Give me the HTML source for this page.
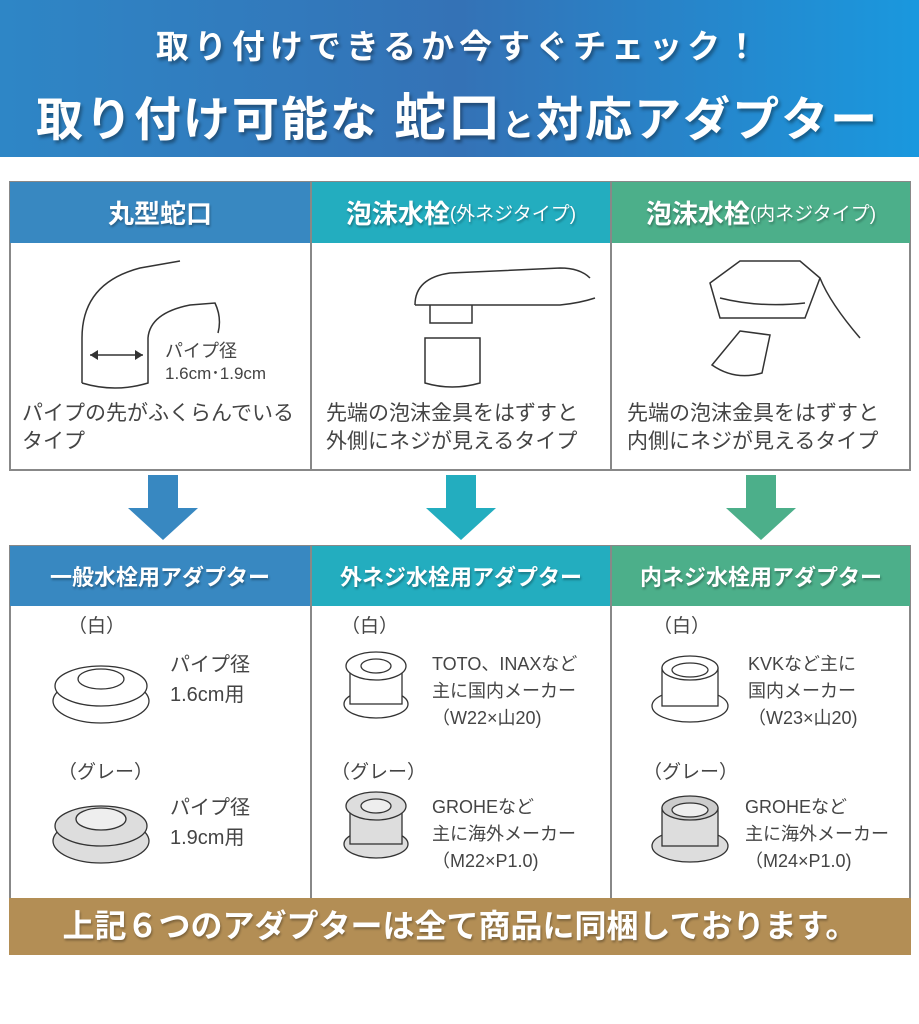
<!DOCTYPE html>
<html><head><meta charset="utf-8"><style>
*{margin:0;padding:0;box-sizing:border-box}
body{width:919px;height:1024px;background:#fff;position:relative;font-family:"Liberation Sans","Noto Sans CJK JP",sans-serif;overflow:hidden}
.abs{position:absolute}
.hdr{left:0;top:0;width:919px;height:157px;background:linear-gradient(90deg,#2e86c6 0%,#3472b6 50%,#1a98de 100%)}
.t1{color:#fff;font-weight:bold;text-shadow:2px 3px 3px rgba(0,0,0,.35);white-space:nowrap}
.grid{border:2px solid #888;background:#fff}
.h{color:#fff;font-weight:bold;display:flex;align-items:center;justify-content:center;font-size:26px;text-shadow:1px 2px 2px rgba(0,0,0,.3);white-space:nowrap}
.txt{font-size:21px;color:#444;line-height:28px;white-space:nowrap}
.s{font-size:18px;color:#444;line-height:26px;white-space:nowrap}
</style></head><body>
<div class="abs hdr"></div>
<div class="abs t1" style="left:0;width:919px;top:20px;text-align:center;font-size:33px;letter-spacing:5px">取り付けできるか今すぐチェック！</div>
<div class="abs t1" style="left:36px;top:76px;font-size:47px;letter-spacing:2px">取り付け可能な <span style="font-size:52px">蛇口</span><span style="font-size:32px">と</span>対応アダプター</div>

<div class="abs grid" style="left:9px;top:181px;width:902px;height:290px"></div>
<div class="abs h" style="left:10px;top:182px;width:300px;height:61px;background:#3888c1">丸型蛇口</div>
<div class="abs h" style="left:311px;top:182px;width:300px;height:61px;background:#23adbf">泡沫水栓<span style="font-weight:normal;font-size:19px">(外ネジタイプ)</span></div>
<div class="abs h" style="left:612px;top:182px;width:298px;height:61px;background:#4caf8a">泡沫水栓<span style="font-weight:normal;font-size:19px">(内ネジタイプ)</span></div>
<div class="abs" style="left:310px;top:182px;width:2px;height:288px;background:#888"></div>
<div class="abs" style="left:610px;top:182px;width:2px;height:288px;background:#888"></div>

<svg class="abs" style="left:0;top:243px" width="919" height="160">
<g fill="none" stroke="#333" stroke-width="1.5">
<path d="M82 140 V95 Q82 40 140 25 L180 18 M82 140 Q115 150 148 140 V95 Q150 70 190 62 L215 60 Q222 75 218 90"/>
<line x1="90" y1="112" x2="143" y2="112"/>
<path d="M415 62 Q415 35 450 30 L560 25 Q580 25 590 35 M415 62 H560 Q580 60 595 55 M430 62 V80 H472 V62 M425 95 H480 V140 Q452 148 425 140 Z"/>
<path d="M710 40 L740 18 H800 L820 35 L805 75 H720 Z M720 55 Q760 65 805 60 M820 35 Q830 60 860 95 M740 88 L770 92 L762 130 Q735 138 712 122 Z"/>
</g>
<g fill="#333"><path d="M90 112 l8 -5 v10z M143 112 l-8 -5 v10z"/></g>
</svg>
<div class="abs s" style="left:165px;top:340px;line-height:22px">パイプ径<br><span style="font-size:17px">1.6cm･1.9cm</span></div>
<div class="abs txt" style="left:22px;top:400px">パイプの先がふくらんでいる<br>タイプ</div>
<div class="abs txt" style="left:326px;top:400px">先端の泡沫金具をはずすと<br>外側にネジが見えるタイプ</div>
<div class="abs txt" style="left:627px;top:400px">先端の泡沫金具をはずすと<br>内側にネジが見えるタイプ</div>

<svg class="abs" style="left:0;top:475px" width="919" height="68">
<path d="M148 0 h30 v33 h20 l-35 32 l-35 -32 h20z" fill="#3888c1"/>
<path d="M446 0 h30 v33 h20 l-35 32 l-35 -32 h20z" fill="#23adbf"/>
<path d="M746 0 h30 v33 h20 l-35 32 l-35 -32 h20z" fill="#4caf8a"/>
</svg>

<div class="abs grid" style="left:9px;top:545px;width:902px;height:355px"></div>
<div class="abs h" style="left:10px;top:546px;width:300px;height:60px;background:#3888c1;font-size:22px">一般水栓用アダプター</div>
<div class="abs h" style="left:311px;top:546px;width:300px;height:60px;background:#23adbf;font-size:22px">外ネジ水栓用アダプター</div>
<div class="abs h" style="left:612px;top:546px;width:298px;height:60px;background:#4caf8a;font-size:22px">内ネジ水栓用アダプター</div>
<div class="abs" style="left:310px;top:546px;width:2px;height:352px;background:#888"></div>
<div class="abs" style="left:610px;top:546px;width:2px;height:352px;background:#888"></div>

<svg class="abs" style="left:0;top:606px" width="919" height="292">
<g stroke="#333" stroke-width="1.3">
<ellipse cx="101" cy="95" rx="48" ry="22" fill="#fff"/><ellipse cx="101" cy="80" rx="46" ry="20" fill="#fff"/><ellipse cx="101" cy="73" rx="23" ry="10" fill="#fff"/>
<ellipse cx="101" cy="235" rx="48" ry="22" fill="#ddd"/><ellipse cx="101" cy="220" rx="46" ry="20" fill="#ddd"/><ellipse cx="101" cy="213" rx="25" ry="11" fill="#eee"/>
<ellipse cx="376" cy="98" rx="32" ry="14" fill="#fff"/><rect x="350" y="60" width="52" height="38" fill="#fff"/><ellipse cx="376" cy="60" rx="30" ry="14" fill="#fff"/><ellipse cx="376" cy="60" rx="15" ry="7" fill="#fff"/>
<ellipse cx="376" cy="238" rx="32" ry="14" fill="#ddd"/><rect x="350" y="200" width="52" height="38" fill="#ddd"/><ellipse cx="376" cy="200" rx="30" ry="14" fill="#ddd"/><ellipse cx="376" cy="200" rx="15" ry="7" fill="#eee"/>
<ellipse cx="690" cy="100" rx="38" ry="16" fill="#fff"/><rect x="662" y="62" width="56" height="38" fill="#fff"/><ellipse cx="690" cy="62" rx="28" ry="12" fill="#fff"/><ellipse cx="690" cy="64" rx="18" ry="7" fill="#fff"/>
<ellipse cx="690" cy="240" rx="38" ry="16" fill="#ddd"/><rect x="662" y="202" width="56" height="38" fill="#ddd"/><ellipse cx="690" cy="202" rx="28" ry="12" fill="#ccc"/><ellipse cx="690" cy="204" rx="18" ry="7" fill="#eee"/>
</g></svg>

<div class="abs s" style="left:68px;top:614px;font-size:19px">（白）</div>
<div class="abs s" style="left:58px;top:760px;font-size:19px">（グレー）</div>
<div class="abs s" style="left:170px;top:650px;line-height:30px;font-size:20px">パイプ径<br>1.6cm用</div>
<div class="abs s" style="left:170px;top:793px;line-height:30px;font-size:20px">パイプ径<br>1.9cm用</div>

<div class="abs s" style="left:341px;top:614px;font-size:19px">（白）</div>
<div class="abs s" style="left:331px;top:760px;font-size:19px">（グレー）</div>
<div class="abs s" style="left:432px;top:651px;line-height:27px">TOTO、INAXなど<br>主に国内メーカー<br>（W22×山20)</div>
<div class="abs s" style="left:432px;top:794px;line-height:27px">GROHEなど<br>主に海外メーカー<br>（M22×P1.0)</div>

<div class="abs s" style="left:653px;top:614px;font-size:19px">（白）</div>
<div class="abs s" style="left:643px;top:760px;font-size:19px">（グレー）</div>
<div class="abs s" style="left:748px;top:651px;line-height:27px">KVKなど主に<br>国内メーカー<br>（W23×山20)</div>
<div class="abs s" style="left:745px;top:794px;line-height:27px">GROHEなど<br>主に海外メーカー<br>（M24×P1.0)</div>

<div class="abs t1" style="left:9px;top:898px;width:902px;height:57px;background:#b38e55;text-align:center;line-height:57px;font-size:32px;text-shadow:1px 2px 2px rgba(0,0,0,.3)">上記６つのアダプターは全て商品に同梱しております。</div>
</body></html>
